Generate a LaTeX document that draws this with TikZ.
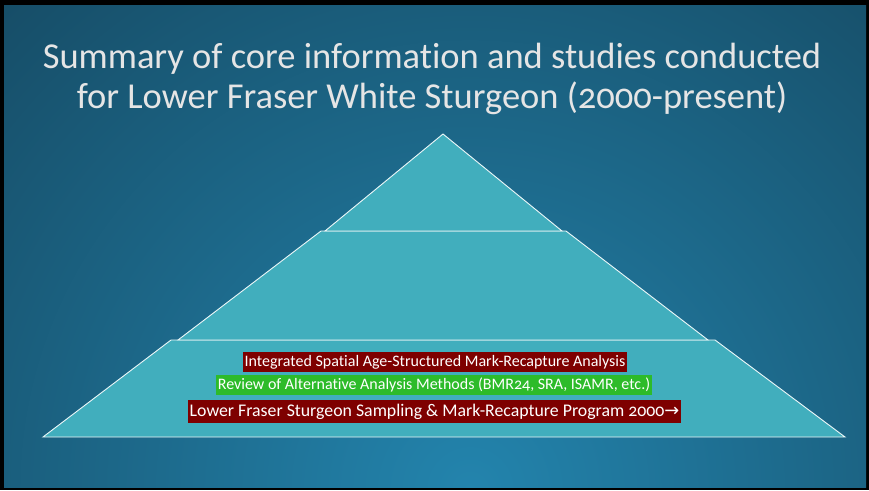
\documentclass[tikz,border=0pt]{standalone}
\usepackage{fontspec}
\setmainfont[Ligatures=NoCommon, Numbers=OldStyle]{Carlito}
\newfontfamily\arrowfont{DejaVu Sans}
\definecolor{deep}{HTML}{123B50}
\definecolor{glow}{HTML}{2384AD}
\definecolor{layer}{HTML}{41AEBD}
\definecolor{maroon}{HTML}{7E0000}
\definecolor{leaf}{HTML}{2DBB2A}

\begin{document}
\begin{tikzpicture}[
x = 1pt, y = -1pt,
level/.style = {fill=layer, draw=white!90!layer, line width=0.9pt, line join=miter},
tag/.style = {rectangle, text=white, inner xsep = 2pt, inner ysep = 0pt, minimum height = 20pt},
red tag/.style = {tag, fill=maroon},
green tag/.style = {tag, fill=leaf}]

\fill[black] (0,0) rectangle (869,490);
\begin{scope}
\clip (4,5) rectangle (866,487);
\shade[inner color=glow, outer color=deep] (470,490) circle (900);
\end{scope}

\node[text=white!90!black, align=center, font=\fontsize{36.5}{40}\selectfont] (ttl) at (432,79)
  {Summary of core information and studies conducted\\for Lower Fraser White Sturgeon (2000-present)};

\draw[level] (171,340) -- (715,340) -- (845,437) -- (43,437) -- cycle;
\draw[level] (321,231) -- (566,231) -- (708,340) -- (178,340) -- cycle;
\draw[level] (443,134) -- (562,231) -- (325,231) -- cycle;

\node[red tag, font=\fontsize{16}{16}\selectfont] (isamr) at (435,362)
  {Integrated Spatial Age-Structured Mark-Recapture Analysis};
\node[green tag, font=\fontsize{16}{16}\selectfont] (review) at (434,385)
  {Review of Alternative Analysis Methods (BMR24, SRA, ISAMR, etc.)};
\node[red tag, minimum height = 23pt, font=\fontsize{17.8}{18}\selectfont] (sampling) at (434.5,411.5)
  {Lower Fraser Sturgeon Sampling \& Mark-Recapture Program 2000{\arrowfont →}};
\end{tikzpicture}
\end{document}
